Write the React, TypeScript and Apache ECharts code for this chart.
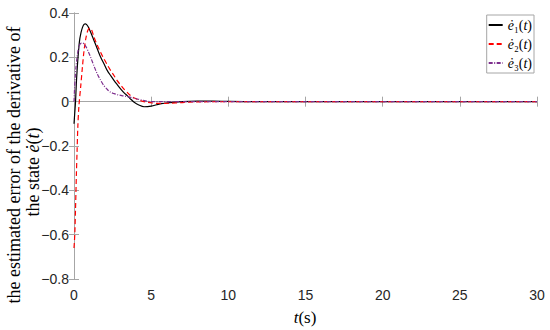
import React, { useEffect, useRef } from "react";
import * as echarts from "echarts";

const t1 = [0, 0.05, 0.1, 0.15, 0.2, 0.26, 0.35, 0.45, 0.55, 0.65, 0.75, 0.9, 1.1, 1.3, 1.5, 1.73, 1.95, 2.16, 2.4, 2.6, 2.8, 3.03, 3.25, 3.45, 3.7, 3.9, 4.2, 4.54, 5.0, 5.57, 6.2, 7, 8, 9, 10, 12, 15, 20, 25, 30];
const e1 = [-0.1, -0.05, 0.0, 0.08, 0.14, 0.2, 0.27, 0.31, 0.335, 0.349, 0.351, 0.34, 0.31, 0.275, 0.24, 0.2, 0.17, 0.14, 0.115, 0.095, 0.077, 0.057, 0.04, 0.027, 0.01, -0.003, -0.015, -0.023, -0.02, -0.01, -0.004, 0.0, 0.002, 0.002, 0.001, 0, 0, 0, 0, 0];

const t2 = [0, 0.05, 0.1, 0.15, 0.2, 0.25, 0.32, 0.43, 0.55, 0.65, 0.78, 0.9, 1.02, 1.15, 1.3, 1.51, 1.73, 1.94, 2.16, 2.38, 2.6, 2.8, 3.0, 3.24, 3.45, 3.67, 4.0, 4.32, 4.7, 5.1, 5.57, 6.2, 7, 8, 10, 15, 20, 25, 30];
const e2 = [-0.66, -0.6, -0.48, -0.34, -0.22, -0.11, -0.018, 0.065, 0.16, 0.23, 0.29, 0.322, 0.332, 0.322, 0.29, 0.255, 0.222, 0.193, 0.166, 0.14, 0.117, 0.095, 0.077, 0.057, 0.042, 0.027, 0.014, 0.005, -0.002, -0.006, -0.008, -0.007, -0.004, -0.001, 0, 0, 0, 0, 0];

const t3 = [0, 0.03, 0.07, 0.12, 0.18, 0.25, 0.33, 0.43, 0.55, 0.65, 0.8, 0.95, 1.08, 1.3, 1.51, 1.72, 1.94, 2.16, 2.38, 2.6, 2.8, 3.1, 3.45, 3.8, 4.1, 4.5, 4.97, 5.6, 7, 10, 15, 20, 25, 30];
const e3 = [0, 0.05, 0.1, 0.15, 0.19, 0.225, 0.25, 0.263, 0.265, 0.26, 0.245, 0.222, 0.2, 0.16, 0.125, 0.097, 0.072, 0.055, 0.042, 0.036, 0.032, 0.027, 0.023, 0.017, 0.012, 0.006, 0.0, 0, 0, 0, 0, 0, 0, 0];

const seriesNames = ["e1", "e2", "e3"];
const legendLabels = ["{i|ė}₁({i|t})", "{i|ė}₂({i|t})", "{i|ė}₃({i|t})"];

const xMin = 0, xMax = 30, xStep = 5;
const yMin = -0.8, yMax = 0.4, yStep = 0.2;

const pairs = (t: number[], v: number[]) => t.map((x, i) => [x, v[i]]);

const boxColor = "#a6a6a6";
const tickFont = "Liberation Sans";
const serif = "Liberation Serif";

const fmtY = (v: number) => {
  const r = Math.round(v * 10) / 10;
  if (r === 0) return "0";
  return String(r).replace("-", "\u2212");
};

export default function App() {
  const ref = useRef<HTMLDivElement>(null);
  useEffect(() => {
    if (!ref.current) return;
    const chart = echarts.init(ref.current, null, { renderer: "svg" });
    const grid = { left: 74, right: 13, top: 13, bottom: 51 };
    const axisCommon = {
      axisLine: { show: true, lineStyle: { color: boxColor, width: 1 } },
      axisTick: { show: true, inside: true, length: 5, lineStyle: { color: boxColor } },
      splitLine: { show: false },
    };
    chart.setOption({
      animation: false,
      backgroundColor: "#ffffff",
      grid,
      xAxis: [
        {
          type: "value", min: xMin, max: xMax, interval: xStep, position: "bottom",
          ...axisCommon,
          axisLabel: { color: "#262626", fontSize: 14, fontFamily: tickFont, margin: 9 },
        },
        {
          type: "value", min: xMin, max: xMax, interval: xStep, position: "top",
          ...axisCommon,
          axisLabel: { show: false },
        },
      ],
      yAxis: [
        {
          type: "value", min: yMin, max: yMax, interval: yStep, position: "left",
          ...axisCommon,
          axisLabel: { color: "#262626", fontSize: 14, fontFamily: tickFont, margin: 5, formatter: fmtY },
        },
        {
          type: "value", min: yMin, max: yMax, interval: yStep, position: "right",
          ...axisCommon,
          axisLabel: { show: false },
        },
      ],
      legend: {
        data: seriesNames,
        orient: "vertical",
        right: 16,
        top: 15,
        padding: [3, 2, 3, 1],
        itemGap: 5,
        itemWidth: 14,
        itemHeight: 14,
        backgroundColor: "#ffffff",
        borderColor: boxColor,
        borderWidth: 1,
        borderRadius: 0,
        itemStyle: { opacity: 0 },
        formatter: (name: string) => legendLabels[seriesNames.indexOf(name)],
        textStyle: {
          fontFamily: serif,
          fontSize: 14,
          color: "#000",
          rich: {
            i: { fontFamily: serif, fontSize: 14, fontStyle: "italic", color: "#000" },
          },
        },
      },
      series: [
        {
          name: seriesNames[0], type: "line", data: pairs(t1, e1), showSymbol: false, symbol: "none",
          smooth: 0.3, lineStyle: { color: "#000000", width: 1.2, type: "solid" }, itemStyle: { color: "#000000" },
        },
        {
          name: seriesNames[1], type: "line", data: pairs(t2, e2), showSymbol: false, symbol: "none",
          smooth: 0.3, lineStyle: { color: "#ff0000", width: 1.2, type: [5, 3] }, itemStyle: { color: "#ff0000" },
        },
        {
          name: seriesNames[2], type: "line", data: pairs(t3, e3), showSymbol: false, symbol: "none",
          smooth: 0.3, lineStyle: { color: "#7E2F8E", width: 1.2, type: [4, 1.5, 1, 1.5] }, itemStyle: { color: "#7E2F8E" },
        },
      ],
      graphic: [
        {
          type: "text",
          x: 14, y: 165, rotation: Math.PI / 2,
          style: {
            text: "the estimated error of the derivative of",
            fontFamily: serif, fontSize: 18, fill: "#000",
            align: "center", verticalAlign: "middle",
          },
        },
        {
          type: "text",
          x: 33, y: 172, rotation: Math.PI / 2,
          style: {
            text: "the state {i|ė}({i|t})",
            fontFamily: serif, fontSize: 18, fill: "#000",
            align: "center", verticalAlign: "middle",
            rich: { i: { fontFamily: serif, fontSize: 18, fontStyle: "italic", fill: "#000" } },
          },
        },
        {
          type: "text",
          x: 305, y: 317,
          style: {
            text: "{i|t}({r|s})",
            fontFamily: serif, fontSize: 17, fill: "#000",
            align: "center", verticalAlign: "middle",
            rich: {
              i: { fontFamily: serif, fontSize: 17, fontStyle: "italic", fill: "#000" },
              r: { fontFamily: serif, fontSize: 17, fill: "#000" },
            },
          },
        },
      ],
    });
    return () => chart.dispose();
  }, []);
  return <div ref={ref} style={{ position: "absolute", left: 0, top: 0, width: 550, height: 330 }} />;
}
